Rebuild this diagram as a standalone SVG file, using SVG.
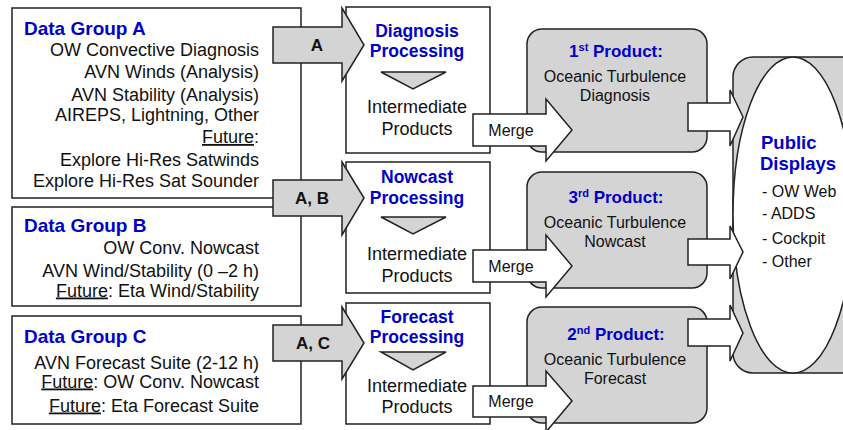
<svg xmlns="http://www.w3.org/2000/svg" width="843" height="430" viewBox="0 0 843 430">
<style>
text{font-family:"Liberation Sans",Arial,sans-serif;fill:#111}
.box{fill:#fff;stroke:#222;stroke-width:1.5}
.gray{fill:#d4d4d4;stroke:#222;stroke-width:1.5}
.white{fill:#fff;stroke:#222;stroke-width:1.5}
.ttl{font-weight:bold;font-size:19px;fill:#0000c8}
.pt{font-weight:bold;font-size:17.5px;fill:#0000c8;text-anchor:middle}
.ln{font-size:18px;text-anchor:end}
.mid{font-size:18px;text-anchor:middle}
.prod{font-size:16px;text-anchor:middle}
.lbl{font-weight:bold;font-size:17px;text-anchor:middle}
.lst{font-size:16px}
.u{text-decoration:underline}
</style>
<rect width="843" height="430" fill="#fff"/>

<g id="groupA">
<rect class="box" x="12" y="8" width="289" height="190"/>
<text class="ttl" x="24" y="35">Data Group A</text>
<text class="ln" x="259" y="56">OW Convective Diagnosis</text>
<text class="ln" x="259" y="78">AVN Winds (Analysis)</text>
<text class="ln" x="259" y="101">AVN Stability (Analysis)</text>
<text class="ln" x="259" y="121">AIREPS, Lightning, Other</text>
<text class="ln" x="259" y="143"><tspan class="u">Future</tspan>:</text>
<text class="ln" x="259" y="165.5">Explore Hi-Res Satwinds</text>
<text class="ln" x="259" y="186.5">Explore Hi-Res Sat Sounder</text>
</g>

<g id="groupB">
<rect class="box" x="12" y="207" width="289" height="99"/>
<text class="ttl" x="24" y="232">Data Group B</text>
<text class="ln" x="259" y="254">OW Conv. Nowcast</text>
<text class="ln" x="259" y="276.5">AVN Wind/Stability (0 –2 h)</text>
<text class="ln" x="259" y="296.5"><tspan class="u">Future</tspan>: Eta Wind/Stability</text>
</g>

<g id="groupC">
<rect class="box" x="12" y="316" width="289" height="108"/>
<text class="ttl" x="24" y="343">Data Group C</text>
<text class="ln" x="259" y="369">AVN Forecast Suite (2-12 h)</text>
<text class="ln" x="259" y="387.5"><tspan class="u">Future</tspan>: OW Conv. Nowcast</text>
<text class="ln" x="259" y="411.5"><tspan class="u">Future</tspan>: Eta Forecast Suite</text>
</g>

<g id="diagnosis">
<rect class="box" x="346" y="7" width="144" height="146"/>
<text class="pt" x="417" y="37">Diagnosis</text>
<text class="pt" x="417" y="57">Processing</text>
<polygon class="gray" points="381,72 446,72 413,89"/>
<text class="mid" x="417" y="112.5">Intermediate</text>
<text class="mid" x="417" y="135">Products</text>
</g>

<g id="nowcast">
<rect class="box" x="346" y="162" width="144" height="131"/>
<text class="pt" x="417" y="183">Nowcast</text>
<text class="pt" x="417" y="204">Processing</text>
<polygon class="gray" points="381,217 446,217 413,234"/>
<text class="mid" x="417" y="260">Intermediate</text>
<text class="mid" x="417" y="281.5">Products</text>
</g>

<g id="forecast">
<rect class="box" x="346" y="303" width="144" height="121"/>
<text class="pt" x="417" y="322.5">Forecast</text>
<text class="pt" x="417" y="342.5">Processing</text>
<polygon class="gray" points="381,352 446,352 413,370"/>
<text class="mid" x="417" y="391.5">Intermediate</text>
<text class="mid" x="417" y="413">Products</text>
</g>

<g id="product1">
<rect class="gray" x="527" y="29" width="180" height="123" rx="15"/>
<text class="pt" x="616" y="57" style="font-size:17px">1<tspan dy="-6" style="font-size:11px">st</tspan><tspan dy="6"> Product:</tspan></text>
<text class="prod" x="615" y="81.5">Oceanic Turbulence</text>
<text class="prod" x="615" y="100.5">Diagnosis</text>
</g>

<g id="product3">
<rect class="gray" x="527" y="172" width="180" height="116" rx="15"/>
<text class="pt" x="616" y="202.5" style="font-size:17px">3<tspan dy="-6" style="font-size:11px">rd</tspan><tspan dy="6"> Product:</tspan></text>
<text class="prod" x="615" y="227.5">Oceanic Turbulence</text>
<text class="prod" x="615" y="247">Nowcast</text>
</g>

<g id="product2">
<rect class="gray" x="527" y="307" width="180" height="116" rx="15"/>
<text class="pt" x="616" y="340" style="font-size:17px">2<tspan dy="-6" style="font-size:11px">nd</tspan><tspan dy="6"> Product:</tspan></text>
<text class="prod" x="615" y="365">Oceanic Turbulence</text>
<text class="prod" x="615" y="384">Forecast</text>
</g>

<g id="displays">
<rect class="gray" x="733" y="57" width="140" height="316" rx="20"/>
<ellipse cx="793" cy="215" rx="60" ry="158" fill="#fff" stroke="#222" stroke-width="1.5"/>
<text class="ttl" x="761" y="148.5" style="font-size:18.5px">Public</text>
<text class="ttl" x="760" y="170" style="font-size:18.5px">Displays</text>
<text class="lst" x="762" y="196.5">- OW Web</text>
<text class="lst" x="762" y="218.5">- ADDS</text>
<text class="lst" x="762" y="243.5">- Cockpit</text>
<text class="lst" x="762" y="266.5">- Other</text>
</g>

<g id="connectors">
<polygon class="gray" points="273,27 342,27 342,8 364,45 342,81 342,63 273,63"/>
<text class="lbl" x="317" y="51">A</text>
<polygon class="gray" points="273,180 342,180 342,162 364,198 342,235 342,216 273,216"/>
<text class="lbl" x="312" y="204">A, B</text>
<polygon class="gray" points="273,325 342,325 342,307 364,343 342,379 342,361 273,361"/>
<text class="lbl" x="313" y="349">A, C</text>

<polygon class="white" points="473,114 546,114 546,99 572,130 546,161 546,146 473,146"/>
<text class="prod" x="511" y="136">Merge</text>
<polygon class="white" points="473,250 546,250 546,235 572,266 546,297 546,282 473,282"/>
<text class="prod" x="511" y="271.5">Merge</text>
<polygon class="white" points="473,386 546,386 546,371 572,401 546,432 546,417 473,417"/>
<text class="prod" x="511" y="406.5">Merge</text>

<polygon class="white" points="688,103 730,103 730,90 743,117 730,146 730,131 688,131"/>
<polygon class="white" points="688,239 730,239 730,226 743,252 730,279 730,265 688,265"/>
<polygon class="white" points="688,319 730,319 730,305 743,333 730,361 730,346 688,346"/>
</g>
</svg>
